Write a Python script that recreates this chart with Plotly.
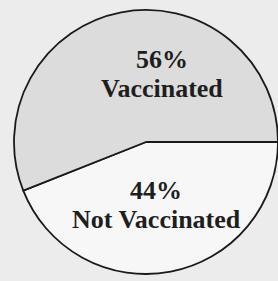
import plotly.graph_objects as go

labels = ["Vaccinated", "Not Vaccinated"]
values = [56, 44]
slice_colors = ["#dcdcdc", "#f7f7f7"]

# plotly clockwise from 3 o'clock; list the smaller (lower) slice first so that
# "Vaccinated" runs from 3 o'clock counterclockwise over the top
order = [1, 0]

fig = go.Figure()
fig.add_trace(go.Pie(
    labels=[labels[i] for i in order],
    values=[values[i] for i in order],
    sort=False,
    direction="clockwise",
    rotation=90,
    textinfo="none",
    hoverinfo="label+percent",
    marker=dict(colors=[slice_colors[i] for i in order],
                line=dict(color="#1a1a1a", width=1.8)),
    domain=dict(x=[14/278, 1.0], y=[5/281, 273/281]),
    showlegend=False,
))

font = dict(family="Liberation Serif, Times New Roman, serif", size=26, color="#1e1e1e")
# (x, y of percent line, y of label line) in pixels from top-left
pos = [(162, 59, 88), (156, 190, 219)]
for lab, val, (px, py1, py2) in zip(labels, values, pos):
    fig.add_annotation(
        x=px/278, y=1 - py1/281, xref="paper", yref="paper",
        text=f"<b>{val}%</b>", showarrow=False, font=font,
        xanchor="center", yanchor="middle",
    )
    fig.add_annotation(
        x=px/278, y=1 - py2/281, xref="paper", yref="paper",
        text=f"<b>{lab}</b>", showarrow=False, font=font,
        xanchor="center", yanchor="middle",
    )

fig.update_layout(
    width=278, height=281,
    margin=dict(l=0, r=0, t=0, b=0),
    paper_bgcolor="#ececec",
    plot_bgcolor="#ececec",
)

fig.write_html(
    "out.html",
    config={"displayModeBar": False},
    post_script="document.body.style.margin='0';document.body.style.background='#ececec';",
)
